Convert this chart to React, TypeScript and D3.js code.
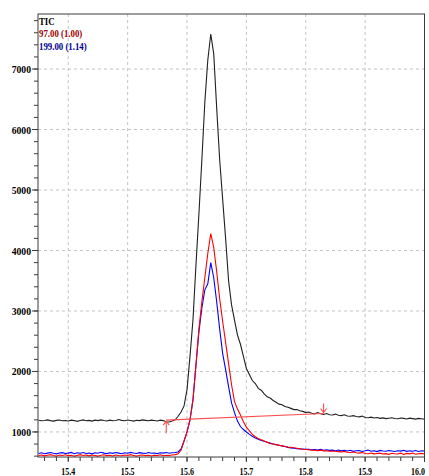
import React from "react";
import * as d3 from "d3";

const times = [
  15.35, 15.355, 15.36, 15.365, 15.37, 15.375, 15.38, 15.385, 15.39, 15.395,
  15.4, 15.405, 15.41, 15.415, 15.42, 15.425, 15.43, 15.435, 15.44, 15.445,
  15.45, 15.455, 15.46, 15.465, 15.47, 15.475, 15.48, 15.485, 15.49, 15.495,
  15.5, 15.505, 15.51, 15.515, 15.52, 15.525, 15.53, 15.535, 15.54, 15.545,
  15.55, 15.555, 15.56, 15.565, 15.57, 15.575, 15.58, 15.585, 15.59, 15.595,
  15.6, 15.605, 15.61, 15.615, 15.62, 15.625, 15.63, 15.635, 15.64, 15.645,
  15.65, 15.655, 15.66, 15.665, 15.67, 15.675, 15.68, 15.685, 15.69, 15.695,
  15.7, 15.705, 15.71, 15.715, 15.72, 15.725, 15.73, 15.735, 15.74, 15.745,
  15.75, 15.755, 15.76, 15.765, 15.77, 15.775, 15.78, 15.785, 15.79, 15.795,
  15.8, 15.805, 15.81, 15.815, 15.82, 15.825, 15.83, 15.835, 15.84, 15.845,
  15.85, 15.855, 15.86, 15.865, 15.87, 15.875, 15.88, 15.885, 15.89, 15.895,
  15.9, 15.905, 15.91, 15.915, 15.92, 15.925, 15.93, 15.935, 15.94, 15.945,
  15.95, 15.955, 15.96, 15.965, 15.97, 15.975, 15.98, 15.985, 15.99, 15.995,
  16.0,
];

const ticValues = [
  1195, 1185, 1190, 1200, 1188, 1180, 1192, 1198, 1186, 1190,
  1182, 1195, 1188, 1176, 1190, 1200, 1185, 1192, 1180, 1195,
  1188, 1200, 1190, 1182, 1196, 1185, 1190, 1205, 1192, 1186,
  1198, 1190, 1180, 1194, 1188, 1200, 1192, 1185, 1196, 1190,
  1182, 1195, 1188, 1170, 1165, 1180,
  1200, 1260, 1330, 1430, 1700, 2250, 2850, 3750, 4600, 5500,
  6450, 7150, 7580, 7250, 6350, 5500, 4850, 4200, 3500, 3100,
  2850, 2600, 2450, 2250, 2050, 1950, 1850, 1800, 1720, 1690,
  1630, 1580, 1560, 1520, 1490, 1460, 1450, 1420, 1410, 1390,
  1370, 1370, 1350, 1340, 1320,
  1330, 1310, 1300, 1320, 1300, 1290, 1305, 1285, 1280, 1295,
  1275, 1270, 1285, 1265, 1260, 1270, 1255, 1250, 1262, 1240,
  1235, 1245, 1230, 1238, 1225, 1232, 1220, 1228, 1235, 1222,
  1218, 1230, 1225, 1215, 1228, 1220, 1212, 1225, 1218, 1210,
];

const ion97Values = [
  610, 620, 605, 615, 625, 610, 600, 618, 612, 622,
  608, 615, 600, 612, 625, 610, 618, 605, 620, 612,
  600, 615, 622, 608, 614, 603, 620, 612, 606, 618,
  610, 625, 612, 600, 615, 620, 608, 614, 602, 616,
  610, 622, 606, 615, 612, 620, 625,
  640, 700, 850, 1000, 1200, 1530, 2100, 2700, 3150, 3550,
  3950, 4280, 4050, 3650, 3200, 2830, 2480, 2130, 1780, 1500,
  1380, 1280, 1170, 1080, 1020, 960, 920, 890, 870, 850,
  830, 810, 800, 790, 780, 770, 760, 750, 745, 738,
  730, 722, 715, 710,
  705, 700, 698, 692, 700, 688, 690, 682, 685, 680,
  675, 670, 678, 665, 660, 668, 655, 650, 660, 645,
  640, 652, 638, 645, 650, 636, 642, 630, 648, 640,
  635, 650, 628, 645, 638, 652, 632, 640, 646, 635,
];

const ion199Values = [
  645, 655, 640, 650, 660, 648, 638, 652, 658, 645,
  650, 662, 640, 655, 648, 660, 645, 652, 638, 655,
  648, 665, 650, 642, 656, 646, 660, 650, 640, 655,
  648, 662, 652, 644, 658, 650, 645, 660, 648, 652,
  642, 655, 650, 660, 648, 655, 660,
  670, 720, 850, 1000, 1200, 1530, 2100, 2650, 3050, 3350,
  3450, 3800, 3550, 3150, 2700, 2300, 2030, 1750, 1480, 1320,
  1180, 1090, 1040, 1000, 960, 930, 900, 880, 860, 845,
  830, 815, 800, 790, 780, 770, 760, 745, 735, 730,
  725, 720, 718, 712,
  715, 705, 710, 700, 712, 698, 705, 695, 700, 690,
  702, 688, 695, 685, 698, 680, 690, 692, 678, 688,
  700, 682, 690, 676, 695, 684, 680, 692, 686, 678,
  690, 684, 696, 680, 688, 682, 694, 678, 690, 684,
];

const xTickLabels = ["15.4", "15.5", "15.6", "15.7", "15.8", "15.9", "16.0"];
const yTickLabels = ["1000", "2000", "3000", "4000", "5000", "6000", "7000"];
const legendLabels = ["TIC", "97.00 (1.00)", "199.00 (1.14)"];
const integrationStart = [15.565, 1195];
const integrationEnd = [15.83, 1305];

const W = 429;
const H = 476;
const left = 38;
const right = 424.5;
const top = 14;
const bottom = 457;

const x = d3.scaleLinear().domain([15.349, 16.0]).range([left, right]);
const y = d3.scaleLinear().domain([586, 7910]).range([bottom, top]);

const FONT = "'Liberation Serif', 'Times New Roman', serif";

function CText({ tx, ty, sx, anchor, fill, children, size = 11 }: any) {
  return (
    <text
      transform={`translate(${tx},${ty}) scale(${sx},1)`}
      textAnchor={anchor}
      fill={fill}
      fontFamily={FONT}
      fontWeight="bold"
      fontSize={size}
    >
      {children}
    </text>
  );
}

export default function App() {
  const line = (vals: number[]) =>
    d3
      .line<number>()
      .x((_, i) => x(times[i]))
      .y((v) => y(v))(vals) || "";

  const xMajor = xTickLabels.map(Number);
  const yMajor = yTickLabels.map(Number);
  const xMinor = d3.range(15.36, 16.0001, 0.02);
  const yMinor = d3.range(600, 7801, 200);

  const axisColor = "#3c3c3c";
  const gridColor = "#c4c4c4";
  const baseColor = "#ff5050";

  const ax0 = x(integrationStart[0]);
  const ay0 = y(integrationStart[1]);
  const ax1 = x(integrationEnd[0]);
  const ay1 = y(integrationEnd[1]);

  return (
    <svg width={W} height={H} style={{ position: "absolute", left: 0, top: 0 }}>
      <rect x={0} y={0} width={W} height={H} fill="#fff" />
      <defs>
        <clipPath id="plot">
          <rect x={left} y={top} width={right - left} height={bottom - top} />
        </clipPath>
      </defs>
      {xMajor
        .filter((v) => v < 15.99)
        .map((v) => (
          <line
            key={"gx" + v}
            x1={x(v)}
            x2={x(v)}
            y1={top}
            y2={bottom}
            stroke={gridColor}
            strokeDasharray="3,3"
          />
        ))}
      {yMajor.map((v) => (
        <line
          key={"gy" + v}
          x1={left}
          x2={right}
          y1={y(v)}
          y2={y(v)}
          stroke={gridColor}
          strokeDasharray="3,3"
        />
      ))}
      <g clipPath="url(#plot)" fill="none" strokeWidth={1.1}>
        <path d={line(ticValues)} stroke="#202020" />
        <path d={line(ion199Values)} stroke="#0000ff" />
        <path d={line(ion97Values)} stroke="#ff0000" />
        <line x1={ax0} y1={ay0} x2={ax1} y2={ay1} stroke={baseColor} />
        <line x1={ax0} y1={ay0 + 1} x2={ax0} y2={ay0 + 13} stroke={baseColor} />
        <path d={`M${ax0 - 3},${ay0 + 5} L${ax0},${ay0 + 1} L${ax0 + 3},${ay0 + 5}`} stroke={baseColor} />
        <line x1={ax1} y1={ay1 - 1} x2={ax1} y2={ay1 - 10} stroke={baseColor} />
        <path d={`M${ax1 - 3},${ay1 - 5} L${ax1},${ay1 - 1} L${ax1 + 3},${ay1 - 5}`} stroke={baseColor} />
      </g>
      <rect x={left} y={top} width={right - left} height={bottom - top} fill="none" stroke={axisColor} />
      {yMinor.map((v) => (
        <line key={"ym" + v} x1={left - 4} x2={left} y1={y(v)} y2={y(v)} stroke={axisColor} />
      ))}
      {yMajor.map((v, i) => (
        <g key={"yl" + v}>
          <line x1={left - 6} x2={left} y1={y(v)} y2={y(v)} stroke={axisColor} />
          <CText tx={31} ty={y(v) + 4} sx={0.88} anchor="end" fill="#000">
            {yTickLabels[i]}
          </CText>
        </g>
      ))}
      {xMinor.map((v) => (
        <line key={"xm" + v} x1={x(v)} x2={x(v)} y1={bottom} y2={bottom + 4} stroke={axisColor} />
      ))}
      {xMajor.map((v, i) => (
        <g key={"xl" + v}>
          <line x1={x(v)} x2={x(v)} y1={bottom} y2={bottom + 5} stroke={axisColor} />
          <CText tx={Math.min(x(v), 418)} ty={475} sx={0.72} anchor="middle" fill="#000">
            {xTickLabels[i]}
          </CText>
        </g>
      ))}
      <CText tx={39} ty={25} sx={0.8} anchor="start" fill="#000">
        {legendLabels[0]}
      </CText>
      <CText tx={39} ty={37} sx={0.8} anchor="start" fill="#a00000">
        {legendLabels[1]}
      </CText>
      <CText tx={39} ty={50} sx={0.8} anchor="start" fill="#000090">
        {legendLabels[2]}
      </CText>
    </svg>
  );
}
